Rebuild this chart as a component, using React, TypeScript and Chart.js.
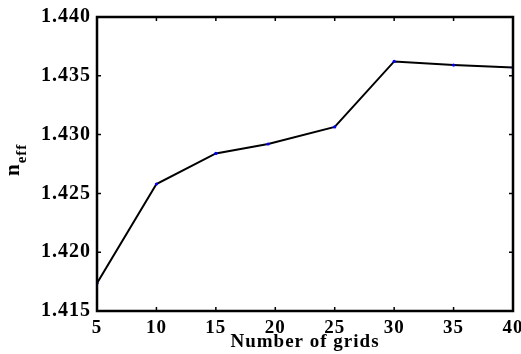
import React, { useEffect, useRef } from "react";
import { Chart, registerables } from "chart.js";

Chart.register(...registerables);

const gridCounts = [5, 10, 15, 19.4, 25, 30, 35, 40];
const neffValues = [1.41736, 1.4258, 1.4284, 1.4292, 1.43065, 1.43622, 1.43591, 1.43571];
const xTicks = [5, 10, 15, 20, 25, 30, 35, 40];
const yTicks = [1.415, 1.42, 1.425, 1.43, 1.435, 1.44];
const xTitle = "Number of grids";
const yTitleMain = "n";
const yTitleSub = "eff";

const FONT = "'Liberation Serif', 'Times New Roman', serif";

const spacingPlugin = {
  id: "spacing",
  beforeLayout(chart: any) {
    chart.ctx.letterSpacing = "1px";
  },
  beforeDraw(chart: any) {
    chart.ctx.letterSpacing = "1px";
  },
};

const framePlugin = {
  id: "frame",
  afterDatasetsDraw(chart: any) {
    const { ctx, chartArea, scales } = chart;
    const { left, right, top, bottom } = chartArea;
    ctx.save();
    ctx.strokeStyle = "#000";
    ctx.lineWidth = 1.5;
    const tl = 4;
    ctx.beginPath();
    xTicks.forEach((v) => {
      const px = scales.x.getPixelForValue(v);
      if (px > left + 1 && px < right - 1) {
        ctx.moveTo(px, bottom);
        ctx.lineTo(px, bottom - tl);
        ctx.moveTo(px, top);
        ctx.lineTo(px, top + tl);
      }
    });
    yTicks.forEach((v) => {
      const py = scales.y.getPixelForValue(v);
      if (py > top + 1 && py < bottom - 1) {
        ctx.moveTo(left, py);
        ctx.lineTo(left + tl, py);
        ctx.moveTo(right, py);
        ctx.lineTo(right - tl, py);
      }
    });
    ctx.stroke();
    ctx.lineWidth = 2.5;
    ctx.strokeRect(left, top, right - left, bottom - top);

    // y-axis title with subscript
    ctx.fillStyle = "#000";
    ctx.translate(19, 176);
    ctx.rotate(-Math.PI / 2);
    ctx.textAlign = "left";
    ctx.textBaseline = "alphabetic";
    ctx.font = `bold 21px ${FONT}`;
    ctx.fillText(yTitleMain, 0, 0);
    const w = ctx.measureText(yTitleMain).width;
    ctx.font = `bold 15px ${FONT}`;
    ctx.fillText(yTitleSub, w, 7);
    ctx.restore();
  },
};

export default function App() {
  const ref = useRef<HTMLCanvasElement | null>(null);

  useEffect(() => {
    if (!ref.current) return;
    const chart = new Chart(ref.current, {
      type: "line",
      data: {
        datasets: [
          {
            data: gridCounts.map((x, i) => ({ x, y: neffValues[i] })),
            borderColor: "#000",
            borderWidth: 2,
            pointRadius: 1.6,
            pointBackgroundColor: "#0000ff",
            pointBorderColor: "#0000ff",
            pointBorderWidth: 0,
            tension: 0,
            fill: false,
          },
        ],
      },
      options: {
        animation: false,
        responsive: false,
        layout: { padding: { top: 17, right: 8, left: 0, bottom: 0 } },
        plugins: { legend: { display: false }, tooltip: { enabled: false } },
        scales: {
          x: {
            type: "linear",
            min: 5,
            max: 40,
            afterBuildTicks: (s: any) => {
              s.ticks = xTicks.map((v) => ({ value: v }));
            },
            afterFit: (s: any) => {
              s.height = 43;
              s.paddingLeft = 0;
              s.paddingRight = 0;
            },
            grid: { display: false, drawTicks: false },
            border: { display: false },
            ticks: {
              autoSkip: false,
              maxRotation: 0,
              padding: 6,
              color: "#000",
              font: { family: FONT, size: 19, weight: "bold" },
              callback: (v: any) => String(v),
            },
            title: {
              display: true,
              text: xTitle,
              color: "#000",
              font: { family: FONT, size: 19, weight: "bold" },
              padding: { top: 0, bottom: 1 },
            },
          },
          y: {
            type: "linear",
            min: 1.415,
            max: 1.44,
            afterBuildTicks: (s: any) => {
              s.ticks = yTicks.map((v) => ({ value: v }));
            },
            afterFit: (s: any) => {
              s.width = 97;
              s.paddingTop = 0;
              s.paddingBottom = 0;
            },
            grid: { display: false, drawTicks: false },
            border: { display: false },
            ticks: {
              autoSkip: false,
              padding: 6,
              color: "#000",
              font: { family: FONT, size: 20, weight: "bold" },
              callback: (v: any) => Number(v).toFixed(3),
            },
          },
        },
      },
      plugins: [spacingPlugin, framePlugin],
    } as any);
    return () => chart.destroy();
  }, []);

  return (
    <div style={{ position: "fixed", left: 0, top: 0, width: 521, height: 354, background: "#fff" }}>
      <canvas ref={ref} width={521} height={354} style={{ display: "block" }} />
    </div>
  );
}
